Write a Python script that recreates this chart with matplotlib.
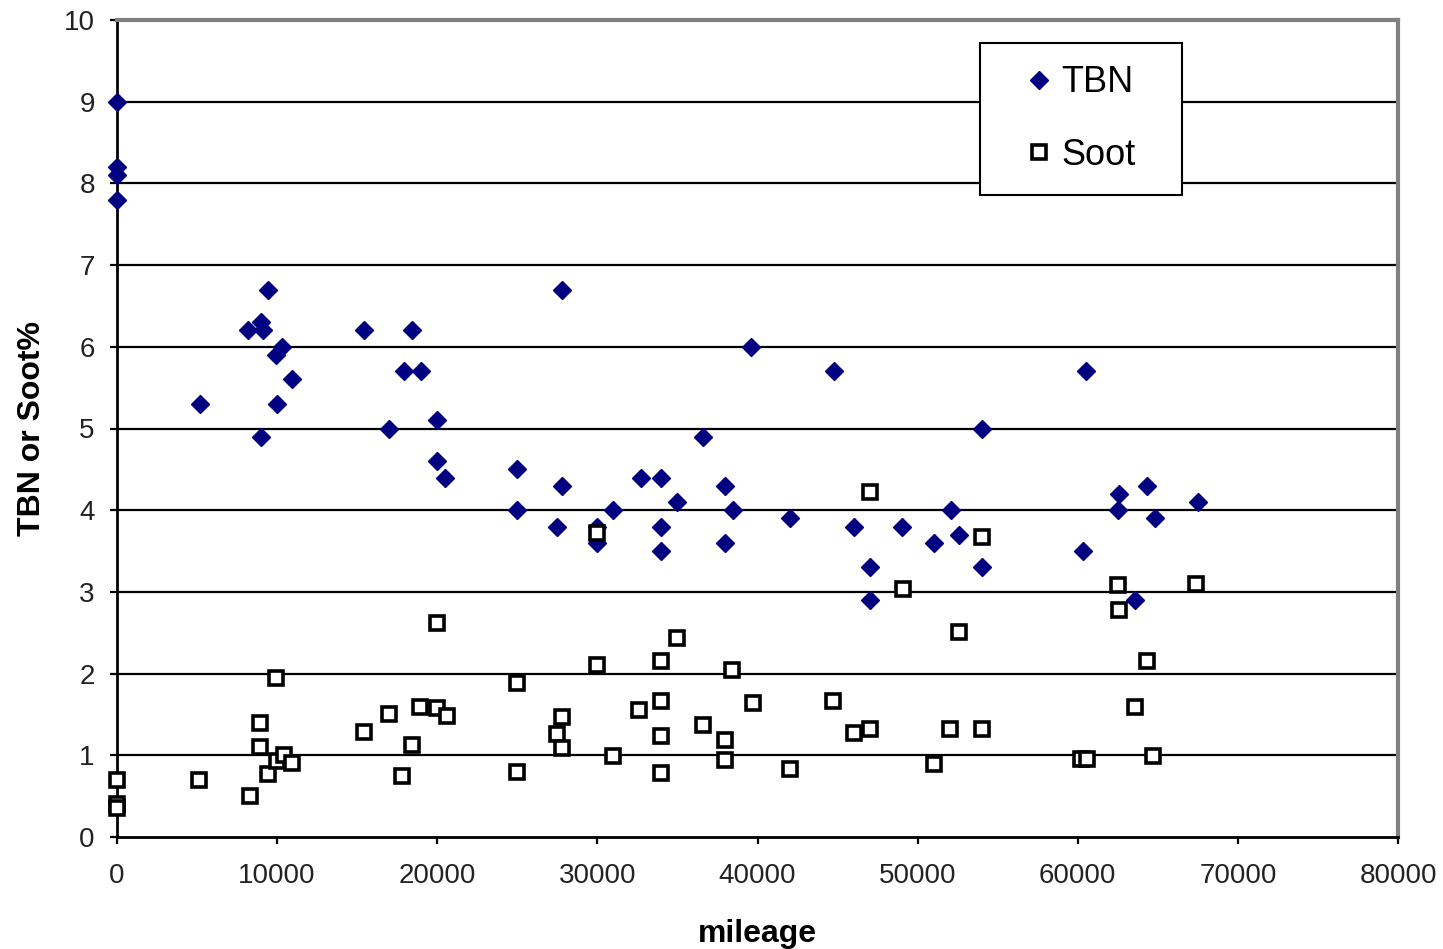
import matplotlib
matplotlib.use("Agg")
import matplotlib.pyplot as plt
from matplotlib.lines import Line2D

plt.rcParams['font.family'] = ['Liberation Sans', 'DejaVu Sans']

# TBN data (mileage, value)
tbn_mileage = [0, 0, 0, 0,
               5200, 8200, 9000, 9100, 9000, 9400, 9900, 10000, 10300, 10900,
               15400, 17000, 17900, 18400, 19000, 20000, 20000, 20500,
               25000, 25000, 27500, 27800, 27800,
               30000, 30000, 31000, 32700, 34000, 34000, 34000, 35000, 36600,
               38000, 38000, 38500, 39600,
               42000, 44800, 46000, 47000, 47000, 49000, 51000, 52100, 52600,
               54000, 54000,
               60300, 60500, 62500, 62600, 63600, 64300, 64800, 67500]
tbn_values = [9.0, 8.2, 8.1, 7.8,
              5.3, 6.2, 6.3, 6.2, 4.9, 6.7, 5.9, 5.3, 6.0, 5.6,
              6.2, 5.0, 5.7, 6.2, 5.7, 5.1, 4.6, 4.4,
              4.5, 4.0, 3.8, 4.3, 6.7,
              3.8, 3.6, 4.0, 4.4, 4.4, 3.8, 3.5, 4.1, 4.9,
              4.3, 3.6, 4.0, 6.0,
              3.9, 5.7, 3.8, 3.3, 2.9, 3.8, 3.6, 4.0, 3.7,
              5.0, 3.3,
              3.5, 5.7, 4.0, 4.2, 2.9, 4.3, 3.9, 4.1]

# Soot data (mileage, value)
soot_mileage = [0, 0, 0,
                5100, 8300, 8900, 8900, 9400, 9900, 10000, 10400, 10900,
                15400, 17000, 17800, 18400, 18900, 20000, 20000, 20600,
                25000, 25000, 27500, 27800, 27800,
                30000, 30000, 31000, 32600, 34000, 34000, 34000, 34000, 35000,
                36600, 38000, 38000, 38400, 39700,
                42000, 44700, 46000, 47000, 47000, 49100, 51000, 52000, 52600,
                54000, 54000,
                60200, 60600, 62500, 62600, 63600, 64300, 64700, 67400]
soot_values = [0.7, 0.4, 0.35,
               0.7, 0.5, 1.4, 1.1, 0.77, 1.95, 0.93, 1.0, 0.9,
               1.28, 1.5, 0.75, 1.13, 1.59, 1.58, 2.62, 1.48,
               1.89, 0.8, 1.26, 1.47, 1.09,
               2.1, 3.72, 0.99, 1.56, 2.15, 1.67, 1.24, 0.78, 2.43,
               1.37, 1.19, 0.94, 2.04, 1.64,
               0.83, 1.67, 1.27, 1.32, 4.22, 3.03, 0.89, 1.32, 2.51,
               3.67, 1.32,
               0.95, 0.95, 3.08, 2.78, 1.59, 2.15, 0.99, 3.1]

x_ticks = [0, 10000, 20000, 30000, 40000, 50000, 60000, 70000, 80000]
y_ticks = [0, 1, 2, 3, 4, 5, 6, 7, 8, 9, 10]

fig = plt.figure(figsize=(14.43, 9.49), dpi=100)
ax = fig.add_axes([117/1443, 1-837/949, (1398-117)/1443, (837-20)/949])

ax.set_xlim(0, 80000)
ax.set_ylim(0, 10)
ax.set_xticks(x_ticks)
ax.set_yticks(y_ticks)

for y in y_ticks[1:-1]:
    ax.axhline(y, color='black', lw=1.6, zorder=1)

ax.plot(tbn_mileage, tbn_values, linestyle='none', marker='D', markersize=9,
        color='#000080', markeredgecolor='#000080', zorder=3, clip_on=False,
        label='TBN')
ax.plot(soot_mileage, soot_values, linestyle='none', marker='s', markersize=10.5,
        markerfacecolor='white', markeredgecolor='black', markeredgewidth=2.6,
        zorder=4, clip_on=False, label='Soot')

for side in ['top', 'right']:
    ax.spines[side].set_color('#808080')
    ax.spines[side].set_linewidth(3)
for side in ['left', 'bottom']:
    ax.spines[side].set_color('black')
    ax.spines[side].set_linewidth(2)

ax.tick_params(axis='both', direction='out', length=5, width=1.6,
               labelsize=20, colors='black', labelcolor='#222222')
ax.tick_params(axis='x', pad=14)
ax.tick_params(axis='y', pad=11)

ax.set_xlabel('mileage', fontsize=23, fontweight='bold', labelpad=21)
ax.set_ylabel('TBN or Soot%', fontsize=23, fontweight='bold', labelpad=12)

handles = [
    Line2D([], [], linestyle='none', marker='D', markersize=9.5,
           color='#000080', markeredgecolor='#000080'),
    Line2D([], [], linestyle='none', marker='s', markersize=10,
           markerfacecolor='white', markeredgecolor='black', markeredgewidth=2.6),
]
lx0 = (980 - 117) / 1281
lx1 = (1182 - 117) / 1281
ly0 = (837 - 191) / 817
ly1 = (837 - 43) / 817
leg = ax.legend(handles, ['TBN', 'Soot'], loc='upper left',
                bbox_to_anchor=(lx0, ly0, lx1 - lx0, ly1 - ly0), mode='expand',
                fontsize=26, frameon=True, fancybox=False, shadow=False,
                framealpha=1, edgecolor='black', borderpad=0.62,
                labelspacing=1.03, handlelength=2.02, handletextpad=-0.39,
                borderaxespad=0)
leg.get_frame().set_linewidth(1.5)
leg.set_zorder(10)

fig.savefig('out.png', dpi=100, facecolor='white')
